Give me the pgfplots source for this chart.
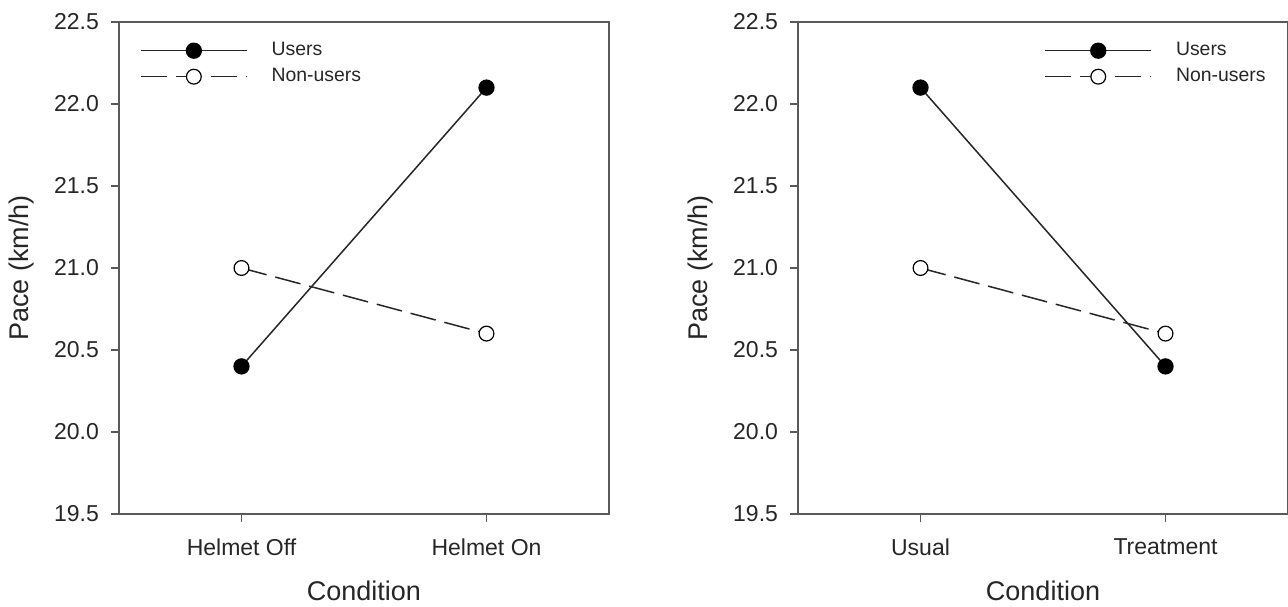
\documentclass[border=0pt]{standalone}
\usepackage{fontspec}
\setmainfont{Liberation Sans}
\usepackage{pgfplots}
\pgfplotsset{compat=1.18}
\definecolor{axgray}{gray}{0.35}
\definecolor{lngray}{gray}{0.15}

\pgfplotsset{
 myaxis/.style={
  scale only axis, width=245pt, height=246pt,
  xmin=-0.5, xmax=1.5, ymin=19.5, ymax=22.5,
  ytick={19.5,20.0,20.5,21.0,21.5,22.0,22.5},
  yticklabel style={xshift=-2.5pt, /pgf/number format/fixed, /pgf/number format/fixed zerofill, /pgf/number format/precision=1},
  xticklabel style={yshift=-5pt},
  xtick={0,1},
  tick align=outside, xtick pos=left, ytick pos=left,
  major tick length=4pt,
  axis line style={axgray, line width=0.8pt},
  tick style={axgray, line width=0.8pt},
  /pgf/number format/assume math mode=true,
  tick label style={font=\fontsize{11.5}{13}\selectfont, text=black!85},
  label style={font=\fontsize{13.5}{16}\selectfont, text=black!85},
  xlabel=Condition, ylabel={Pace (km/h)},
  xlabel style={at={(axis description cs:0.5,-0.157)}, anchor=center},
  ylabel style={at={(axis description cs:-0.198,0.5)}, anchor=center},
  legend image code/.code={\draw[mark repeat=2,mark phase=2,##1] plot coordinates {(0pt,0pt) (26.5pt,0pt) (53pt,0pt)};},
  legend cell align=left,
  legend style={draw=none, fill=none, font=\fontsize{9.7}{11}\selectfont, text=black!85,
    anchor=north west,
    nodes={inner sep=1pt, text height=7pt, text depth=2pt},
    row sep=2pt,
    /tikz/every odd column/.append style={column sep=11pt}},
 },
 users/.style={lngray, line width=0.75pt, mark=*, mark size=3.7pt, mark options={solid, fill=black, draw=black}},
 nonusers/.style={lngray, line width=0.75pt, dash pattern=on 13pt off 4.5pt, mark=*, mark size=3.7pt, mark options={solid, fill=white, draw=black, line width=0.6pt}},
}

\begin{document}
\begin{tikzpicture}
\begin{axis}[myaxis, xticklabels={Helmet Off, Helmet On},
  legend style={at={(axis description cs:0.03,0.973)}}]
\addplot[users] coordinates {(0,20.4) (1,22.1)};
\addlegendentry{Users}
\addplot[nonusers] coordinates {(0,21.0) (1,20.6)};
\addlegendentry{Non-users}
\end{axis}
\begin{axis}[myaxis, at={(339.5pt,0pt)}, xticklabels={Usual, Treatment},
  legend style={at={(axis description cs:0.49,0.973)}}]
\addplot[users] coordinates {(0,22.1) (1,20.4)};
\addlegendentry{Users}
\addplot[nonusers] coordinates {(0,21.0) (1,20.6)};
\addlegendentry{Non-users}
\end{axis}
\pgfresetboundingbox
\path[use as bounding box] (-59.5pt,-46pt) rectangle (584.5pt,257pt);
\end{tikzpicture}
\end{document}
